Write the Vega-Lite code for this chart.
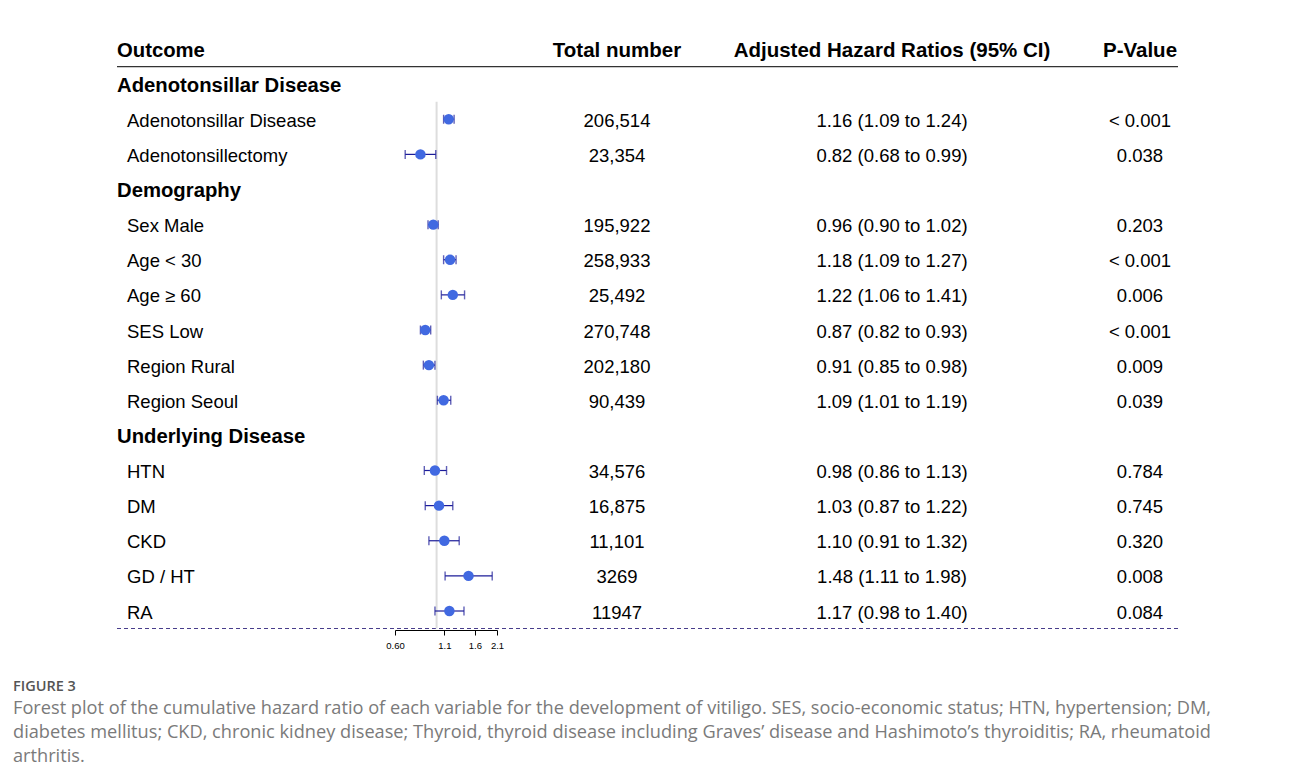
{
  "$schema": "https://vega.github.io/schema/vega-lite/v6.json",
  "width": 1061,
  "height": 630,
  "autosize": {"type": "none"},
  "padding": {"left": 117, "top": 0, "right": 112, "bottom": 154},
  "background": "white",
  "config": {"view": {"stroke": null}},
  "title": {
    "text": "FIGURE 3",
    "subtitle": [
      "Forest plot of the cumulative hazard ratio of each variable for the development of vitiligo. SES, socio-economic status; HTN, hypertension; DM,",
      "diabetes mellitus; CKD, chronic kidney disease; Thyroid, thyroid disease including Graves’ disease and Hashimoto’s thyroiditis; RA, rheumatoid",
      "arthritis."
    ],
    "orient": "bottom",
    "anchor": "start",
    "frame": "group",
    "dx": -104,
    "offset": 30,
    "font": "Open Sans",
    "fontSize": 14.5,
    "fontWeight": 600,
    "color": "#555555",
    "subtitleFont": "Open Sans",
    "subtitleFontSize": 18.2,
    "subtitleFontWeight": 400,
    "subtitleColor": "#7a7a7a",
    "subtitleLineHeight": 24,
    "subtitlePadding": 6
  },
  "datasets": {
    "rows": [
      {"row": 0, "kind": "section", "label": "Outcome", "n": "Total number", "hr": "Adjusted Hazard Ratios (95% CI)", "p": "P-Value"},
      {"row": 1, "kind": "section", "label": "Adenotonsillar Disease"},
      {"row": 2, "kind": "item", "label": "Adenotonsillar Disease", "n": "206,514", "hr": "1.16 (1.09 to 1.24)", "p": "< 0.001", "est": 1.16, "lo": 1.09, "hi": 1.24},
      {"row": 3, "kind": "item", "label": "Adenotonsillectomy", "n": "23,354", "hr": "0.82 (0.68 to 0.99)", "p": "0.038", "est": 0.82, "lo": 0.68, "hi": 0.99},
      {"row": 4, "kind": "section", "label": "Demography"},
      {"row": 5, "kind": "item", "label": "Sex Male", "n": "195,922", "hr": "0.96 (0.90 to 1.02)", "p": "0.203", "est": 0.96, "lo": 0.90, "hi": 1.02},
      {"row": 6, "kind": "item", "label": "Age < 30", "n": "258,933", "hr": "1.18 (1.09 to 1.27)", "p": "< 0.001", "est": 1.18, "lo": 1.09, "hi": 1.27},
      {"row": 7, "kind": "item", "label": "Age ≥ 60", "n": "25,492", "hr": "1.22 (1.06 to 1.41)", "p": "0.006", "est": 1.22, "lo": 1.06, "hi": 1.41},
      {"row": 8, "kind": "item", "label": "SES Low", "n": "270,748", "hr": "0.87 (0.82 to 0.93)", "p": "< 0.001", "est": 0.87, "lo": 0.82, "hi": 0.93},
      {"row": 9, "kind": "item", "label": "Region Rural", "n": "202,180", "hr": "0.91 (0.85 to 0.98)", "p": "0.009", "est": 0.91, "lo": 0.85, "hi": 0.98},
      {"row": 10, "kind": "item", "label": "Region Seoul", "n": "90,439", "hr": "1.09 (1.01 to 1.19)", "p": "0.039", "est": 1.09, "lo": 1.01, "hi": 1.19},
      {"row": 11, "kind": "section", "label": "Underlying Disease"},
      {"row": 12, "kind": "item", "label": "HTN", "n": "34,576", "hr": "0.98 (0.86 to 1.13)", "p": "0.784", "est": 0.98, "lo": 0.86, "hi": 1.13},
      {"row": 13, "kind": "item", "label": "DM", "n": "16,875", "hr": "1.03 (0.87 to 1.22)", "p": "0.745", "est": 1.03, "lo": 0.87, "hi": 1.22},
      {"row": 14, "kind": "item", "label": "CKD", "n": "11,101", "hr": "1.10 (0.91 to 1.32)", "p": "0.320", "est": 1.10, "lo": 0.91, "hi": 1.32},
      {"row": 15, "kind": "item", "label": "GD / HT", "n": "3269", "hr": "1.48 (1.11 to 1.98)", "p": "0.008", "est": 1.48, "lo": 1.11, "hi": 1.98},
      {"row": 16, "kind": "item", "label": "RA", "n": "11947", "hr": "1.17 (0.98 to 1.40)", "p": "0.084", "est": 1.17, "lo": 0.98, "hi": 1.40}
    ]
  },
  "data": {"name": "rows"},
  "resolve": {"scale": {"x": "independent"}, "axis": {"x": "independent"}},
  "layer": [
    {
      "data": {"values": [{}]},
      "mark": {"type": "rule", "color": "#333333", "strokeWidth": 1.3},
      "encoding": {
        "y": {"datum": 0.5, "type": "quantitative", "axis": null, "scale": {"domain": [0, 16], "range": [49, 611], "nice": false, "zero": false}}
      }
    },
    {
      "data": {"values": [{}]},
      "mark": {"type": "rule", "color": "#483d8b", "strokeWidth": 1.1, "strokeDash": [4, 3]},
      "encoding": {
        "y": {"datum": 16.5, "type": "quantitative", "axis": null, "scale": {"domain": [0, 16], "range": [49, 611], "nice": false, "zero": false}}
      }
    },
    {
      "encoding": {
        "x": {"field": "kind", "type": "nominal", "axis": null, "scale": {"type": "point", "domain": ["section", "item"], "range": [0, 10], "padding": 0}},
        "y": {"field": "row", "type": "quantitative", "axis": null, "scale": {"domain": [0, 16], "range": [49, 611], "nice": false, "zero": false}},
        "text": {"field": "label", "type": "nominal"}
      },
      "layer": [
        {
          "transform": [{"filter": "datum.kind == 'section'"}],
          "mark": {"type": "text", "align": "left", "baseline": "middle", "dy": 1.5, "font": "Liberation Sans", "fontSize": 20.3, "fontWeight": "bold", "color": "#000000"}
        },
        {
          "transform": [{"filter": "datum.kind == 'item'"}],
          "mark": {"type": "text", "align": "left", "baseline": "middle", "dy": 1.5, "font": "Liberation Sans", "fontSize": 18.5, "color": "#000000"}
        }
      ]
    },
    {
      "resolve": {"scale": {"x": "independent"}, "axis": {"x": "independent"}},
      "encoding": {
        "y": {"field": "row", "type": "quantitative", "axis": null, "scale": {"domain": [0, 16], "range": [49, 611], "nice": false, "zero": false}},
        "text": {"field": "value", "type": "nominal"}
      },
      "layer": [
        {
          "transform": [
            {"fold": ["n", "hr"], "as": ["column", "value"]},
            {"filter": "isValid(datum.value)"}
          ],
          "encoding": {
            "x": {"field": "column", "type": "nominal", "axis": null, "scale": {"type": "point", "domain": ["n", "hr"], "range": [500, 775], "padding": 0}}
          },
          "layer": [
            {
              "transform": [{"filter": "datum.kind == 'section'"}],
              "mark": {"type": "text", "align": "center", "baseline": "middle", "dy": 1.5, "font": "Liberation Sans", "fontSize": 20.5, "fontWeight": "bold", "color": "#000000"}
            },
            {
              "transform": [{"filter": "datum.kind == 'item'"}],
              "mark": {"type": "text", "align": "center", "baseline": "middle", "dy": 1.5, "font": "Liberation Sans", "fontSize": 18.5, "color": "#000000"}
            }
          ]
        },
        {
          "transform": [
            {"fold": ["p"], "as": ["column", "value"]},
            {"filter": "isValid(datum.value)"}
          ],
          "encoding": {
            "x": {"field": "column", "type": "nominal", "axis": null, "scale": {"type": "point", "domain": ["p"], "range": [1013, 1033], "padding": 0.5}}
          },
          "layer": [
            {
              "transform": [{"filter": "datum.kind == 'section'"}],
              "mark": {"type": "text", "align": "center", "baseline": "middle", "dy": 1.5, "font": "Liberation Sans", "fontSize": 20.5, "fontWeight": "bold", "color": "#000000"}
            },
            {
              "transform": [{"filter": "datum.kind == 'item'"}],
              "mark": {"type": "text", "align": "center", "baseline": "middle", "dy": 1.5, "font": "Liberation Sans", "fontSize": 18.5, "color": "#000000"}
            }
          ]
        }
      ]
    },
    {
      "layer": [
        {
          "data": {"values": [{}]},
          "mark": {"type": "rule", "color": "#dddddd", "strokeWidth": 2},
          "encoding": {
            "x": {"datum": 1, "type": "quantitative",
              "scale": {"type": "log", "domain": [0.6, 2.1], "range": [278, 380], "nice": false, "zero": false},
              "axis": {"values": [0.6, 1.1, 1.6, 2.1], "labelExpr": "datum.value == 0.6 ? '0.60' : format(datum.value, '.1f')", "title": null, "grid": false, "domainColor": "#000000", "domainWidth": 1, "tickColor": "#000000", "tickSize": 5, "labelFont": "Liberation Sans", "labelFontSize": 9.5, "labelColor": "#000000", "labelPadding": 5, "labelFlush": false, "labelOverlap": false}},
            "y": {"datum": 1.5, "type": "quantitative", "axis": null, "scale": {"domain": [0, 16], "range": [49, 611], "nice": false, "zero": false}},
            "y2": {"datum": 16.5}
          }
        },
        {
          "transform": [{"filter": "isValid(datum.est)"}],
          "mark": {"type": "rule", "color": "#1c1c99", "strokeWidth": 1.2},
          "encoding": {
            "x": {"field": "lo", "type": "quantitative"},
            "x2": {"field": "hi"},
            "y": {"field": "row", "type": "quantitative", "axis": null}
          }
        },
        {
          "transform": [{"filter": "isValid(datum.est)"}],
          "mark": {"type": "tick", "orient": "vertical", "color": "#1c1c99", "size": 9, "thickness": 1.4},
          "encoding": {
            "x": {"field": "lo", "type": "quantitative"},
            "y": {"field": "row", "type": "quantitative", "axis": null}
          }
        },
        {
          "transform": [{"filter": "isValid(datum.est)"}],
          "mark": {"type": "tick", "orient": "vertical", "color": "#1c1c99", "size": 9, "thickness": 1.4},
          "encoding": {
            "x": {"field": "hi", "type": "quantitative"},
            "y": {"field": "row", "type": "quantitative", "axis": null}
          }
        },
        {
          "transform": [{"filter": "isValid(datum.est)"}],
          "mark": {"type": "point", "filled": true, "opacity": 1, "size": 110, "color": "#4169e1"},
          "encoding": {
            "x": {"field": "est", "type": "quantitative"},
            "y": {"field": "row", "type": "quantitative", "axis": null}
          }
        }
      ]
    }
  ]
}
